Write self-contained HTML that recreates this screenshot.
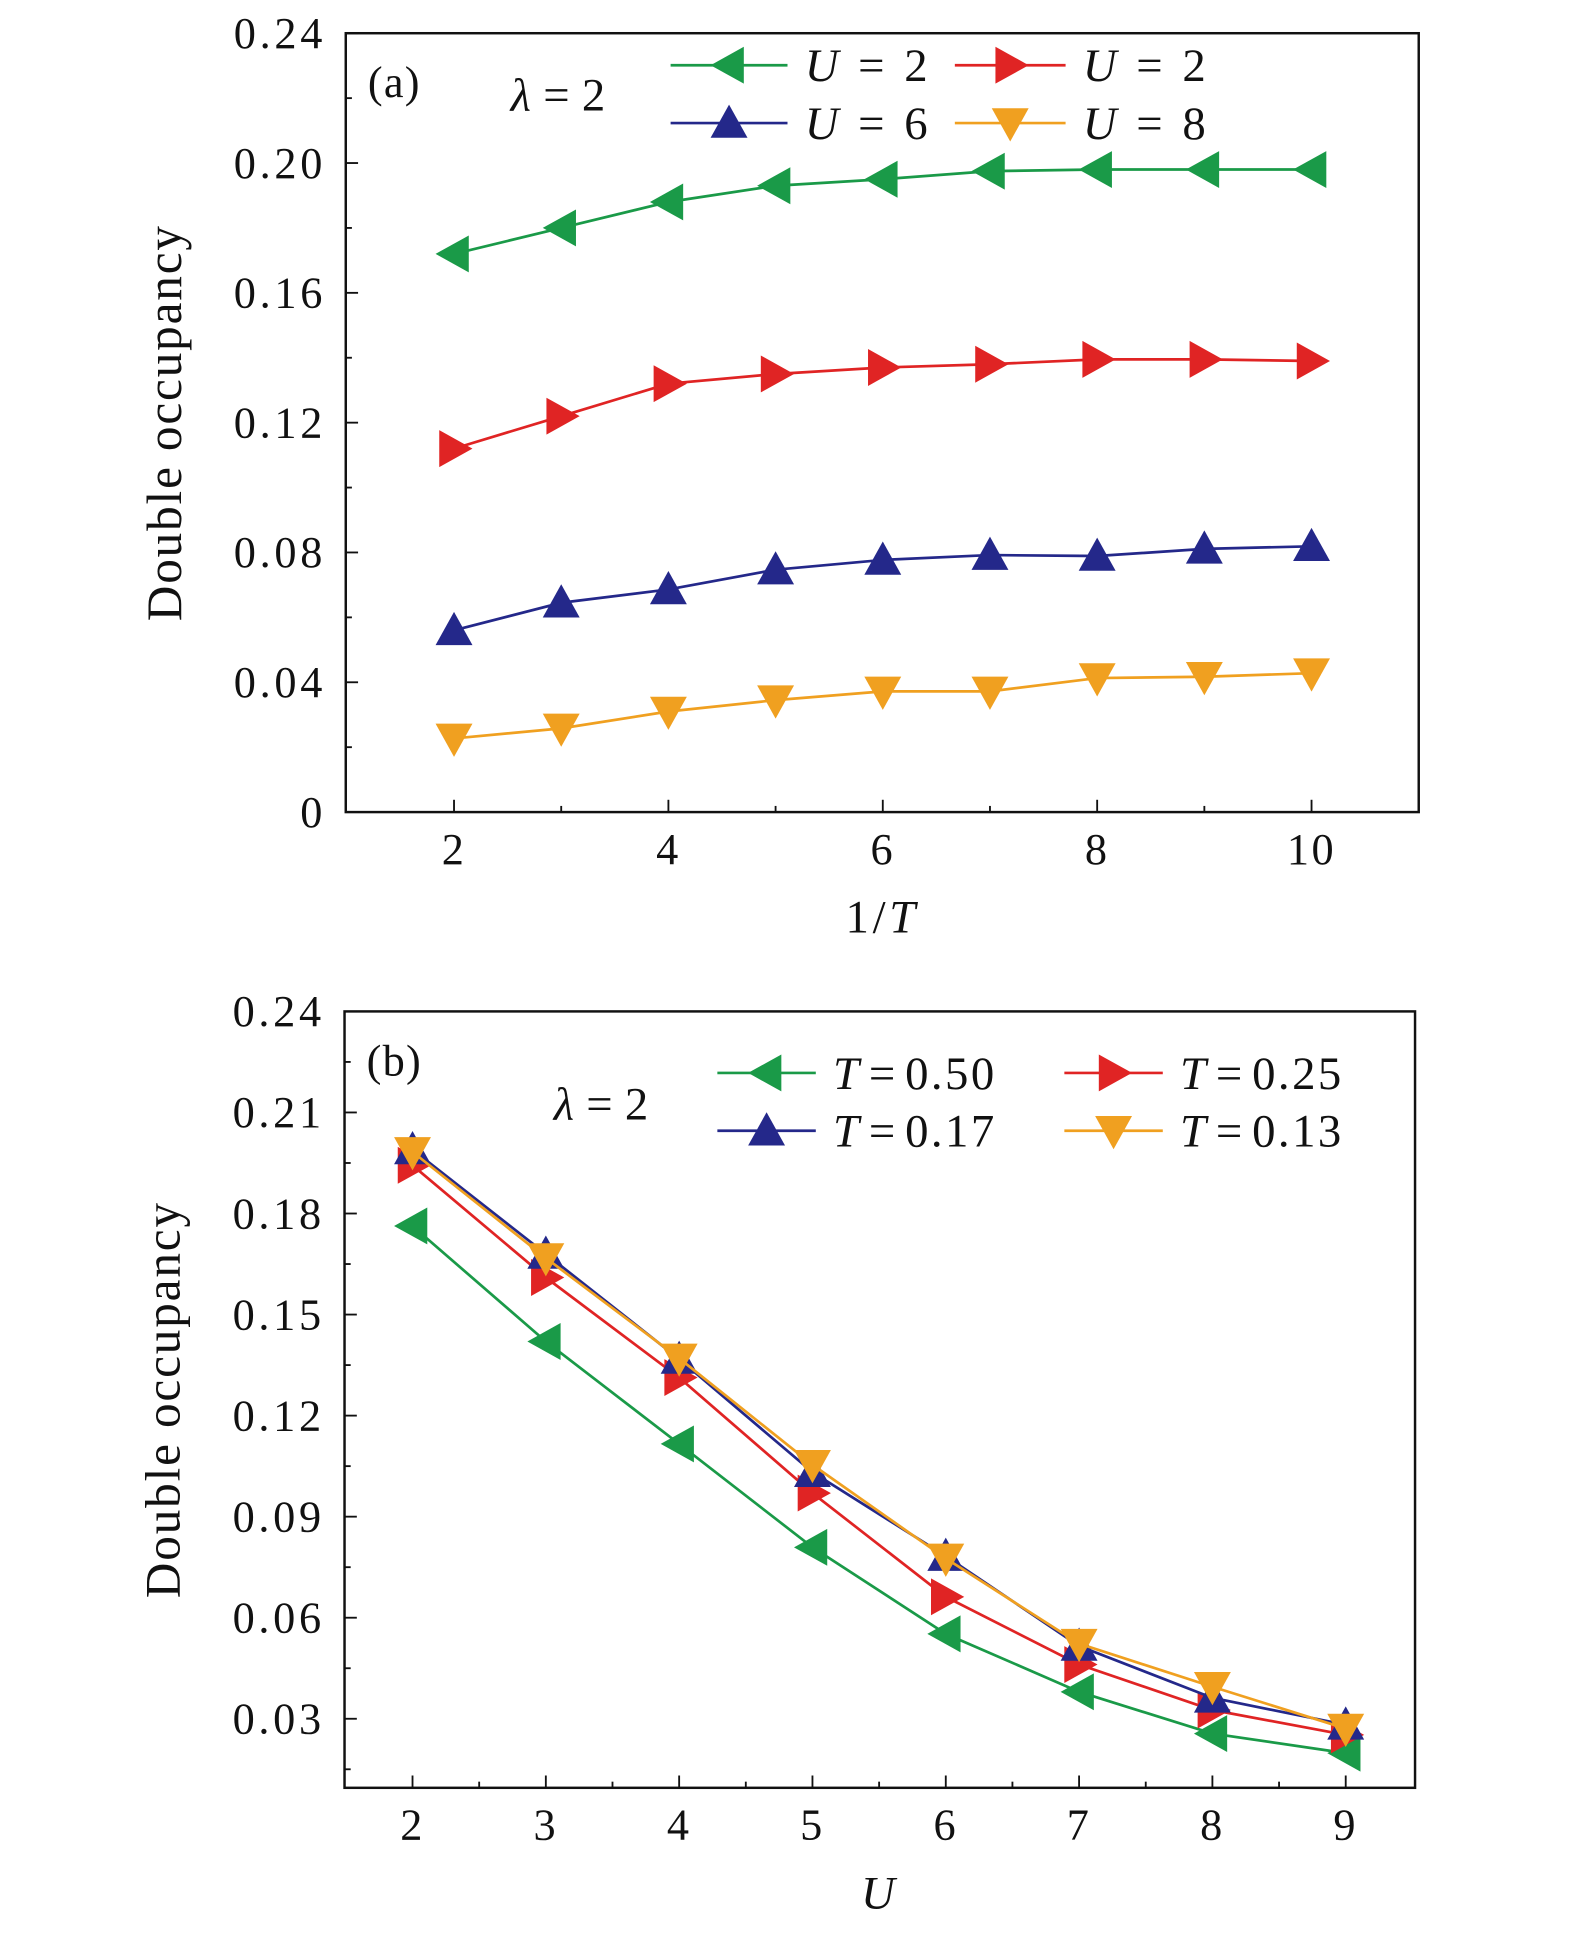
<!DOCTYPE html>
<html><head><meta charset="utf-8"><style>
html,body{margin:0;padding:0;background:#fff;}
svg text{font-family:"Liberation Serif",serif;fill:#111;}
</style></head><body>
<svg id="chart" width="1575" height="1949" viewBox="0 0 1280 1584" preserveAspectRatio="none" xmlns="http://www.w3.org/2000/svg"></svg>
<script>
// Panel (a) data
const aX = [2,3,4,5,6,7,8,9,10];
const aGreen = [0.172,0.180,0.188,0.193,0.195,0.1975,0.198,0.198,0.198];
const aRed = [0.112,0.122,0.132,0.135,0.137,0.138,0.1395,0.1395,0.139];
const aBlue = [0.056,0.0645,0.0686,0.0747,0.0777,0.0792,0.0789,0.0811,0.0819];
const aOrange = [0.0227,0.0258,0.031,0.0345,0.0372,0.0372,0.0413,0.0417,0.0428];
const aXTicks = [2,4,6,8,10];
const aYTicks = [0,0.04,0.08,0.12,0.16,0.20,0.24];
const aYLabels = ["0","0.04","0.08","0.12","0.16","0.20","0.24"];
const aLegend = ["U = 2","U = 2","U = 6","U = 8"];
// Panel (b) data
const bX = [2,3,4,5,6,7,8,9];
const bGreen = [0.1763,0.142,0.1116,0.0809,0.0552,0.038,0.0256,0.0198];
const bRed = [0.1943,0.161,0.1313,0.097,0.0662,0.0461,0.0326,0.0252];
const bBlue = [0.199,0.168,0.1368,0.1032,0.0783,0.0516,0.0362,0.0282];
const bOrange = [0.1983,0.1668,0.137,0.1054,0.0776,0.0523,0.0395,0.0271];
const bXTicks = [2,3,4,5,6,7,8,9];
const bYTicks = [0.03,0.06,0.09,0.12,0.15,0.18,0.21,0.24];
const bYLabels = ["0.03","0.06","0.09","0.12","0.15","0.18","0.21","0.24"];
const bLegend = ["T = 0.50","T = 0.25","T = 0.17","T = 0.13"];

const NS="http://www.w3.org/2000/svg";
const svg=document.getElementById('chart');
const C={g:"#1a9a48",r:"#e02424",b:"#24288a",o:"#f0a020"};
function mk(tag,attrs,parent){const e=document.createElementNS(NS,tag);for(const k in attrs)e.setAttribute(k,attrs[k]);(parent||svg).appendChild(e);return e;}
function marker(g,type,x,y,col){
  const s=15;let p;
  if(type==='left')p=[[x-s,y],[x+s*0.8,y-s],[x+s*0.8,y+s]];
  else if(type==='right')p=[[x+s,y],[x-s*0.8,y-s],[x-s*0.8,y+s]];
  else if(type==='up')p=[[x,y-s],[x-s,y+s*0.8],[x+s,y+s*0.8]];
  else p=[[x,y+s],[x-s,y-s*0.8],[x+s,y-s*0.8]];
  const m=mk('polygon',{points:p.map(q=>q.join(',')).join(' '),fill:col},g);
  
  
}
function panel(o){
  const g=mk('g',{});
  
  
  const sx=v=>o.L+(v-o.xmin)/(o.xmax-o.xmin)*(o.R-o.L);
  const sy=v=>o.B-(v-o.ymin)/(o.ymax-o.ymin)*(o.B-o.T);
  const fr=mk('rect',{x:o.L,y:o.T,width:o.R-o.L,height:o.B-o.T,fill:'none',stroke:'#111','stroke-width':2},g);
  
  
  o.xt.forEach(v=>{const x=sx(v);mk('line',{x1:x,x2:x,y1:o.B,y2:o.B-10,stroke:'#111','stroke-width':1.5},g);
    const t=mk('text',{x:x,y:o.B+42,'font-size':36,'letter-spacing':2,'text-anchor':'middle'},g);t.textContent=v;
    });
  o.xm.forEach(v=>{const x=sx(v);mk('line',{x1:x,x2:x,y1:o.B,y2:o.B-5,stroke:'#111','stroke-width':1.5},g);});
  o.yt.forEach((v,i)=>{const y=sy(v);mk('line',{x1:o.L,x2:o.L+10,y1:y,y2:y,stroke:'#111','stroke-width':1.5},g);
    const t=mk('text',{x:o.L-16,y:y+12,'font-size':36,'letter-spacing':3,'text-anchor':'end'},g);t.textContent=o.yl[i];
    
    const mv=v+(o.yt[1]-o.yt[0])/2;if(mv<o.ymax){const my=sy(mv);mk('line',{x1:o.L,x2:o.L+5,y1:my,y2:my,stroke:'#111','stroke-width':1.5},g);}
    const lv=v-(o.yt[1]-o.yt[0])/2;if(i===0&&lv>o.ymin){const my=sy(lv);mk('line',{x1:o.L,x2:o.L+5,y1:my,y2:my,stroke:'#111','stroke-width':1.5},g);}});
  const yt=mk('text',{x:0,y:0,'font-size':40,'letter-spacing':1.5,'text-anchor':'middle',transform:`translate(${o.L-134},${(o.T+o.B)/2}) rotate(-90)`},g);
  yt.textContent='Double occupancy';
  const xt=mk('text',{x:(o.L+o.R)/2,y:o.B+98,'font-size':38,'letter-spacing':3,'text-anchor':'middle'},g);
  xt.innerHTML=o.xtitle;
  o.series.forEach(s=>{
    const sg=mk('g',{},g);
    const pl=mk('polyline',{points:o.x.map((v,i)=>sx(v)+','+sy(s.d[i])).join(' '),fill:'none',stroke:s.c,'stroke-width':2.2},sg);
    
    o.x.forEach((v,i)=>marker(sg,s.m,sx(v),sy(s.d[i]),s.c));
  });
  const pl=mk('text',{x:o.L+18,y:o.T+52,'font-size':36,'letter-spacing':1},g);pl.textContent=o.label;
  
  const lam=mk('text',{x:o.lam[0],y:o.lam[1],'font-size':38},g);lam.innerHTML='<tspan font-style="italic">λ</tspan><tspan dx="10">=</tspan><tspan dx="10">2</tspan>';
  
  o.series.forEach((s,i)=>{
    const lg=mk('g',{},g);
    const p=o.leg[i];
    mk('line',{x1:p[0],x2:p[0]+p[2],y1:p[1],y2:p[1],stroke:s.c,'stroke-width':2.2},lg);
    marker(lg,s.m,p[0]+p[2]/2,p[1],s.c);
    const parts=o.legText[i].split(' = ');
    const t=mk('text',{x:p[0]+p[2]+14,y:p[1]+13,'font-size':38,'letter-spacing':2},lg);
    t.innerHTML=`<tspan font-style="italic">${parts[0]}</tspan><tspan dx="${o.eqdx}">=</tspan><tspan dx="${o.eqdx}">${parts[1]}</tspan>`;
  });
}
panel({name:'panel-a',L:281,R:1153,T:27,B:660,xmin:0.99,xmax:11.0,ymin:0,ymax:0.24,
  x:aX,xt:aXTicks,xm:[3,5,7,9],yt:aYTicks,yl:aYLabels,label:'(a)',eqdx:14,
  xtitle:'1/<tspan font-style="italic">T</tspan>',lam:[415,90],
  series:[{name:'series-green',d:aGreen,c:C.g,m:'left'},{name:'series-red',d:aRed,c:C.r,m:'right'},{name:'series-blue',d:aBlue,c:C.b,m:'up'},{name:'series-orange',d:aOrange,c:C.o,m:'down'}],
  leg:[[545,53,95],[776,53,90],[545,100,95],[776,100,90]],legText:aLegend});
panel({name:'panel-b',L:280,R:1150,T:822,B:1453,xmin:1.49,xmax:9.52,ymin:0.0095,ymax:0.24,
  x:bX,xt:bXTicks,xm:[2.5,3.5,4.5,5.5,6.5,7.5,8.5],yt:bYTicks,yl:bYLabels,label:'(b)',eqdx:6,
  xtitle:'<tspan font-style="italic">U</tspan>',lam:[450,910],
  series:[{name:'series-green',d:bGreen,c:C.g,m:'left'},{name:'series-red',d:bRed,c:C.r,m:'right'},{name:'series-blue',d:bBlue,c:C.b,m:'up'},{name:'series-orange',d:bOrange,c:C.o,m:'down'}],
  leg:[[583,872,80],[865,872,80],[583,919,80],[865,919,80]],legText:bLegend});
</script>
</body></html>
